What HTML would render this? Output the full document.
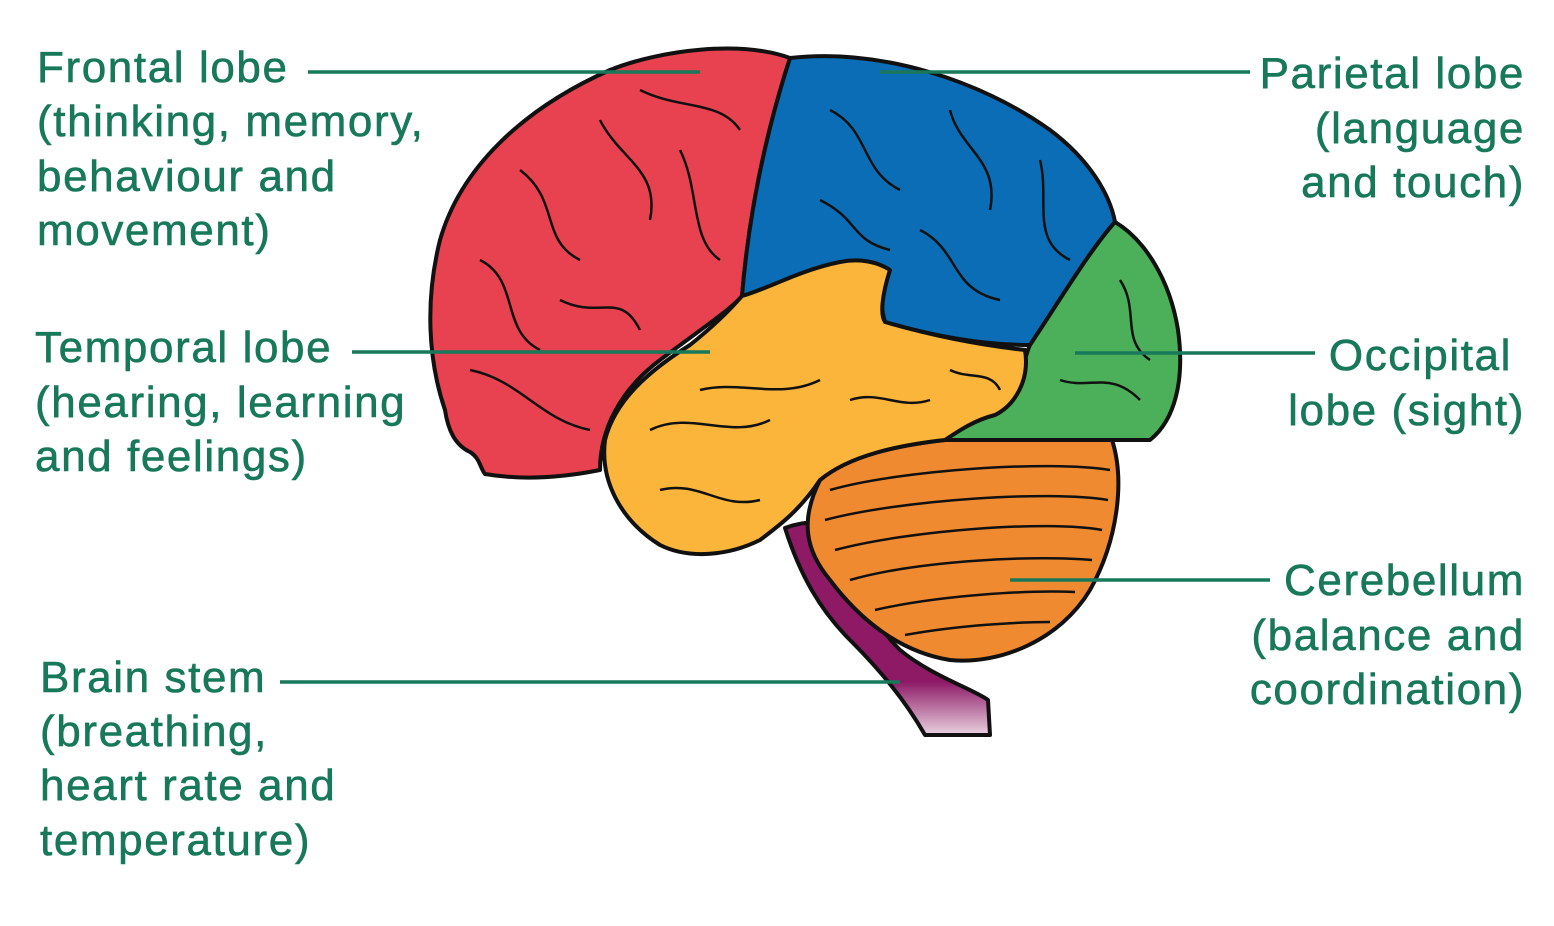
<!DOCTYPE html>
<html><head><meta charset="utf-8">
<style>
html,body{margin:0;padding:0;background:#fff;}
svg{display:block;}
text{font-family:"Liberation Sans",sans-serif;font-size:44px;letter-spacing:1.6px;fill:#17785a;stroke:#17785a;stroke-width:0.6px;}
</style></head>
<body>
<svg width="1554" height="926" viewBox="0 0 1554 926">
<defs>
<linearGradient id="stemfade" x1="0" y1="0" x2="0" y2="1">
<stop offset="0.75" stop-color="#8e1a66"/><stop offset="1" stop-color="#8e1a66" stop-opacity="0.2"/>
</linearGradient>
</defs>
<g stroke="#111" stroke-width="4" stroke-linejoin="round">
<path fill="url(#stemfade)" d="M785,528 C805,520 835,520 845,530 C852,570 860,610 900,650 C930,675 975,690 988,700 L990,735 L925,735 C905,700 880,670 850,640 C820,610 800,575 785,528 Z"/>
<path fill="#f08a30" d="M945,440 L1112,440 C1125,480 1118,540 1090,590 C1060,640 1000,665 950,660 C900,652 860,620 830,580 C805,550 800,520 820,480 C850,455 900,445 945,440 Z"/>
<path fill="#e8414f" d="M790,58 C740,40 660,50 610,70 C520,110 460,170 440,240 C425,300 428,360 445,410 C448,430 455,445 470,452 C480,458 480,468 485,474 C520,480 560,478 600,470 C600,430 620,390 660,360 C700,330 730,310 742,296 C750,200 770,120 790,58 Z"/>
<path fill="#0a6db5" d="M790,58 C880,48 980,80 1050,130 C1090,160 1110,195 1115,222 C1090,250 1060,300 1030,345 C980,345 930,335 885,322 C878,300 885,280 880,268 C860,258 830,262 800,275 C780,285 760,292 742,296 C750,200 770,120 790,58 Z"/>
<path fill="#4cb05a" d="M1115,222 C1145,240 1170,280 1178,330 C1185,380 1175,420 1150,440 L945,440 C960,420 990,405 1010,390 C1025,370 1025,355 1030,345 C1060,300 1090,250 1115,222 Z"/>
<path fill="#fbb53a" d="M742,296 C770,288 800,270 840,262 C860,258 878,262 890,270 C882,295 880,315 885,322 C930,335 980,345 1025,350 C1030,380 1015,405 995,415 C975,420 960,430 945,440 C900,445 850,455 820,480 C800,510 780,525 760,540 C730,555 690,560 660,545 C620,520 600,480 605,440 C615,400 650,370 690,345 C715,325 730,310 742,296 Z"/>
</g>
<g fill="none" stroke="#111" stroke-width="2.5">
<path d="M520,170 C560,200 540,240 580,260 M600,120 C620,160 660,170 650,220 M480,260 C520,280 500,330 540,350 M560,300 C600,320 620,290 640,330 M470,370 C520,380 540,420 590,430 M680,150 C700,190 690,240 720,260 M640,90 C680,110 720,100 740,130"/>
<path d="M830,110 C870,130 860,170 900,190 M950,110 C960,150 1000,160 990,210 M1040,160 C1050,200 1030,240 1070,260 M820,200 C860,220 850,240 890,250 M920,230 C960,250 950,290 1000,300"/>
<path d="M1120,280 C1140,310 1120,340 1150,360 M1060,380 C1090,390 1110,370 1140,400"/>
<path d="M650,430 C690,410 730,440 770,420 M700,390 C740,380 780,400 820,380 M660,490 C700,480 720,510 760,500 M850,400 C880,390 900,410 930,400 M950,370 C970,380 990,370 1000,390"/>
<path d="M830,490 C900,470 1050,460 1110,470 M825,520 C900,500 1050,490 1108,500 M835,550 C910,530 1050,520 1102,530 M850,580 C920,560 1040,555 1092,560 M875,610 C940,595 1030,590 1075,592 M905,635 C960,625 1020,622 1050,622"/>
</g>
<g stroke="#17785a" stroke-width="3.5">
<line x1="308" y1="72" x2="700" y2="72"/>
<line x1="880" y1="72" x2="1250" y2="72"/>
<line x1="352" y1="352" x2="710" y2="352"/>
<line x1="1075" y1="353" x2="1315" y2="353"/>
<line x1="1010" y1="580" x2="1270" y2="580"/>
<line x1="280" y1="682" x2="900" y2="682"/>
</g>
<g>
<text x="37" y="82">Frontal lobe</text>
<text x="37" y="136">(thinking, memory,</text>
<text x="37" y="191">behaviour and</text>
<text x="37" y="245">movement)</text>
</g>
<g>
<text x="35" y="362">Temporal lobe</text>
<text x="35" y="417">(hearing, learning</text>
<text x="35" y="471">and feelings)</text>
</g>
<g>
<text x="40" y="692">Brain stem</text>
<text x="40" y="746">(breathing,</text>
<text x="40" y="800">heart rate and</text>
<text x="40" y="855">temperature)</text>
</g>
<g text-anchor="end">
<text x="1525" y="88">Parietal lobe</text>
<text x="1525" y="143">(language</text>
<text x="1525" y="197">and touch)</text>
</g>
<g text-anchor="end">
<text x="1512" y="370">Occipital</text>
<text x="1525" y="425">lobe (sight)</text>
</g>
<g text-anchor="end">
<text x="1525" y="595">Cerebellum</text>
<text x="1525" y="650">(balance and</text>
<text x="1525" y="704">coordination)</text>
</g>
</svg>
</body></html>
